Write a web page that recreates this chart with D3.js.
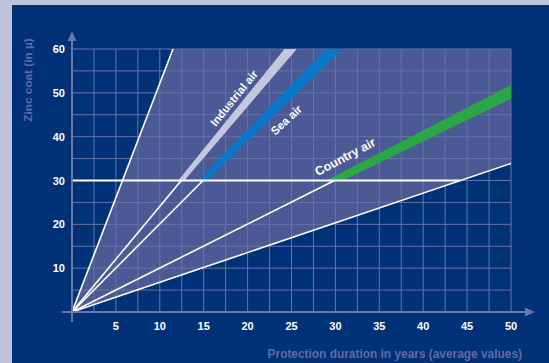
<!DOCTYPE html>
<html>
<head>
<meta charset="utf-8">
<script src="https://cdn.jsdelivr.net/npm/d3@7"></script>
<style>
  body { margin: 0; background: #bec2dc; }
  svg { display: block; }
  text { font-family: "Liberation Sans", Arial, sans-serif; font-weight: bold; }
</style>
</head>
<body>
<div id="container"></div>
<script>
// zones: years of protection reached at 30 µ (lower / upper edge of each band)
let zones = ["Industrial air", "Sea air", "Country air"];
let yearsAt30Min = [12.1, 14.45, 28.95];
let yearsAt30Max = [12.8, 15.4, 30.85];
// outer limits of the shaded area (years at 30 µ)
let limitYears = [5.75, 44.25];

let xTicks = [5, 10, 15, 20, 25, 30, 35, 40, 45, 50];
let yTicks = [10, 20, 30, 40, 50, 60];

let zoneColors = ["#c3c6df", "#0a78c8", "#2aa848"];

let width = 549;
let height = 363;

let svg = d3.select("#container")
    .append("svg")
    .attr("width", width)
    .attr("height", height);

// dark panel
svg.append("rect")
    .attr("x", 12).attr("y", 5)
    .attr("width", width - 12).attr("height", height - 5)
    .attr("fill", "#013176");

let x = d3.scaleLinear().domain([0, 50]).range([72, 511]);
let y = d3.scaleLinear().domain([0, 60]).range([312, 49]);

// point where a line from origin (through yr30, 30) leaves the chart
function endPoint(yr30) {
    let s = 30 / yr30;
    if (60 / s <= 50) return [60 / s, 60];
    return [50, 50 * s];
}

// shaded area between the two limit lines
let shade = [[0, 0], endPoint(limitYears[1]), [50, 60], endPoint(limitYears[0])];
svg.append("path")
    .attr("d", d3.line().x(d => x(d[0])).y(d => y(d[1]))(shade) + "Z")
    .attr("fill", "#4b5a94");

// grid
let gx = d3.range(2.5, 50.1, 2.5);
let gy = d3.range(5, 60.1, 5);
svg.append("g").selectAll("line")
    .data(gx)
    .enter()
    .append("line")
    .attr("x1", d => x(d)).attr("x2", d => x(d))
    .attr("y1", y(0)).attr("y2", y(60))
    .attr("stroke", "#6774aa")
    .attr("stroke-width", 1);
svg.append("g").selectAll("line")
    .data(gy)
    .enter()
    .append("line")
    .attr("x1", x(0)).attr("x2", x(50))
    .attr("y1", d => y(d)).attr("y2", d => y(d))
    .attr("stroke", "#6774aa")
    .attr("stroke-width", 1);

// coloured bands above 30 µ
zones.forEach((z, i) => {
    let a = endPoint(yearsAt30Min[i]);
    let b = endPoint(yearsAt30Max[i]);
    let pts = [[yearsAt30Min[i], 30], [yearsAt30Max[i], 30], b];
    if (a[0] === 50 && b[1] === 60) pts.push([50, 60]);
    if (b[0] === 50 && a[1] === 60) pts.push([50, 60]);
    pts.push(a);
    svg.append("path")
        .attr("d", d3.line().x(d => x(d[0])).y(d => y(d[1]))(pts) + "Z")
        .attr("fill", zoneColors[i]);
});

// white lines from origin
let white = svg.append("g")
    .attr("stroke", "#fff")
    .attr("stroke-width", 1.6)
    .attr("fill", "none");
limitYears.forEach(yr => {
    let e = endPoint(yr);
    white.append("line")
        .attr("x1", x(0)).attr("y1", y(0))
        .attr("x2", x(e[0])).attr("y2", y(e[1]));
});
zones.forEach((z, i) => {
    let mid = (yearsAt30Min[i] + yearsAt30Max[i]) / 2;
    white.append("line")
        .attr("x1", x(0)).attr("y1", y(0))
        .attr("x2", x(mid)).attr("y2", y(30));
});
white.append("line")
    .attr("x1", x(0)).attr("y1", y(30))
    .attr("x2", x(limitYears[1])).attr("y2", y(30))
    .attr("stroke-width", 2);

// axes with arrows
let axisColor = "#6a77ab";
svg.append("line")
    .attr("x1", x(0)).attr("x2", x(0))
    .attr("y1", y(0) + 10).attr("y2", 40)
    .attr("stroke", axisColor).attr("stroke-width", 2);
svg.append("path")
    .attr("d", `M${x(0)},31 L${x(0) - 4.5},41 L${x(0) + 4.5},41 Z`)
    .attr("fill", axisColor);
svg.append("line")
    .attr("x1", x(0) - 10).attr("x2", 526)
    .attr("y1", y(0)).attr("y2", y(0))
    .attr("stroke", axisColor).attr("stroke-width", 2);
svg.append("path")
    .attr("d", `M535,${y(0)} L525,${y(0) - 4.5} L525,${y(0) + 4.5} Z`)
    .attr("fill", axisColor);

// tick labels
svg.append("g").selectAll("text")
    .data(xTicks)
    .enter()
    .append("text")
    .attr("x", d => x(d))
    .attr("y", 330)
    .attr("text-anchor", "middle")
    .attr("font-size", 11)
    .attr("fill", "#fff")
    .text(d => d);
svg.append("g").selectAll("text")
    .data(yTicks)
    .enter()
    .append("text")
    .attr("x", 65)
    .attr("y", d => y(d) + 4)
    .attr("text-anchor", "end")
    .attr("font-size", 11)
    .attr("fill", "#fff")
    .text(d => d);

// axis titles
svg.append("text")
    .attr("transform", "translate(32,80) rotate(-90)")
    .attr("text-anchor", "middle")
    .attr("font-size", 11.8)
    .attr("fill", "#5f6ca5")
    .text("Zinc coat (in µ)");
svg.append("text")
    .attr("x", 522)
    .attr("y", 358)
    .attr("text-anchor", "end")
    .attr("font-size", 11.9)
    .attr("fill", "#5f6ca5")
    .text("Protection duration in years (average values)");

// band labels
let labelAt = [[18.45, 48.8, -51, 11.3], [24.4, 43.8, -43, 11.5], [31.1, 35.4, -28, 12.5]];
zones.forEach((z, i) => {
    svg.append("text")
        .attr("transform", `translate(${x(labelAt[i][0])},${y(labelAt[i][1])}) rotate(${labelAt[i][2]})`)
        .attr("text-anchor", "middle")
        .attr("dy", "0.35em")
        .attr("font-size", labelAt[i][3])
        .attr("fill", "#fff")
        .text(z);
});
</script>
</body>
</html>
